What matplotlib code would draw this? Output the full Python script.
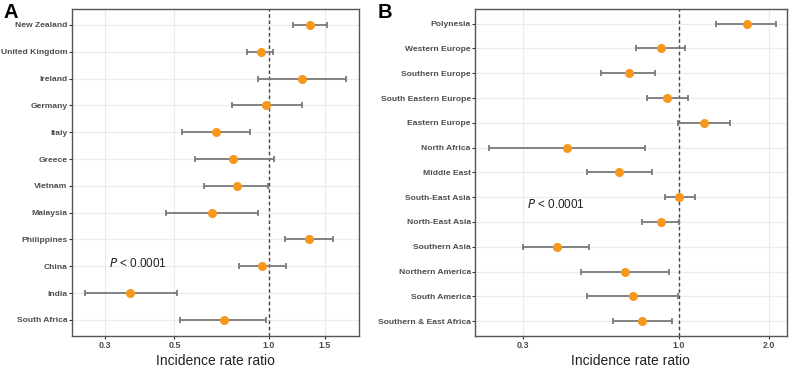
import numpy as np
import matplotlib.pyplot as plt

plt.rcParams['font.family'] = ['Liberation Sans', 'DejaVu Sans']

# Panel A: countries of birth
countries = ['New Zealand', 'United Kingdom', 'Ireland', 'Germany', 'Italy', 'Greece',
             'Vietnam', 'Malaysia', 'Philippines', 'China', 'India', 'South Africa']
irr_a = [1.35, 0.94, 1.27, 0.98, 0.68, 0.77, 0.79, 0.66, 1.34, 0.95, 0.36, 0.72]
lo_a = [1.19, 0.85, 0.92, 0.76, 0.53, 0.58, 0.62, 0.47, 1.12, 0.80, 0.26, 0.52]
hi_a = [1.53, 1.03, 1.76, 1.27, 0.87, 1.04, 0.99, 0.92, 1.60, 1.13, 0.51, 0.98]
ticks_a = [0.3, 0.5, 1.0, 1.5]

# Panel B: regions of birth
regions = ['Polynesia', 'Western Europe', 'Southern Europe', 'South Eastern Europe',
           'Eastern Europe', 'North Africa', 'Middle East', 'South-East Asia',
           'North-East Asia', 'Southern Asia', 'Northern America', 'South America',
           'Southern & East Africa']
irr_b = [1.69, 0.87, 0.68, 0.91, 1.21, 0.42, 0.63, 1.00, 0.87, 0.39, 0.66, 0.70, 0.75]
lo_b = [1.33, 0.72, 0.55, 0.78, 0.99, 0.23, 0.49, 0.90, 0.75, 0.30, 0.47, 0.49, 0.60]
hi_b = [2.12, 1.05, 0.83, 1.07, 1.48, 0.77, 0.81, 1.13, 1.00, 0.50, 0.93, 0.99, 0.95]
ticks_b = [0.3, 1.0, 2.0]

orange = '#F7981D'
bar_col = '#7a7a7a'

fig = plt.figure(figsize=(7.89, 3.68), dpi=100)
axA = fig.add_axes([0.091, 0.087, 0.364, 0.889])
axB = fig.add_axes([0.602, 0.087, 0.395, 0.889])


def forest(ax, labels, irr, lo, hi, ticks, xlim, ptxt):
    n = len(labels)
    y = np.arange(n, 0, -1)
    irr = np.array(irr)
    err = [irr - np.array(lo), np.array(hi) - irr]
    ax.set_xscale('log')
    ax.errorbar(irr, y, xerr=err, fmt='none', ecolor=bar_col, elinewidth=1.3,
                capsize=2.5, capthick=1.3, zorder=3)
    ax.plot(irr, y, 'o', color=orange, ms=5.5, zorder=4)
    ax.axvline(1.0, color='#444444', ls=(0, (2.5, 2)), lw=1.0, zorder=2)
    ax.set_xlim(*xlim)
    ax.set_ylim(0.4, n + 0.6)
    ax.set_yticks(y)
    ax.set_yticklabels(labels, fontsize=6.1, fontweight='bold', color='#4d4d4d')
    ax.set_xticks(ticks)
    ax.set_xticklabels([f'{t:.1f}' for t in ticks], fontsize=6.4,
                       fontweight='bold', color='#4d4d4d')
    ax.minorticks_off()
    ax.tick_params(axis='both', length=2, width=0.8, color='#333333', pad=1.5)
    ax.tick_params(axis='y', pad=1)
    ax.grid(True, color='#ebebeb', lw=0.8, zorder=0)
    ax.set_axisbelow(True)
    for s in ax.spines.values():
        s.set_color('#555555')
        s.set_linewidth(1.0)
    ax.set_xlabel('Incidence rate ratio', fontsize=10, color='#222222', labelpad=3)
    ax.text(ptxt[0], ptxt[1], r'$P$ < 0.0001', fontsize=8.5, color='#222222',
            va='center')


forest(axA, countries, irr_a, lo_a, hi_a, ticks_a, (0.236, 1.93), (0.31, 3.1))
forest(axB, regions, irr_b, lo_b, hi_b, ticks_b, (0.207, 2.30), (0.31, 5.7))

fig.text(0.004, 0.993, 'A', fontsize=14.5, fontweight='bold', va='top')
fig.text(0.478, 0.993, 'B', fontsize=14.5, fontweight='bold', va='top')

fig.savefig('out.png', dpi=100)
